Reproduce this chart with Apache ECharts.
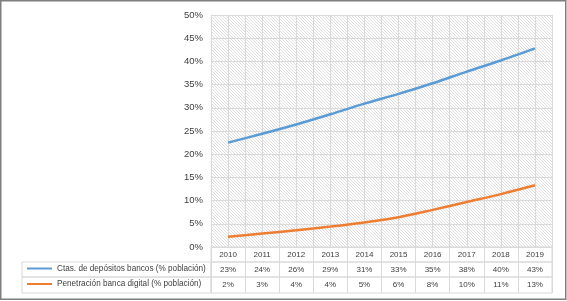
<!DOCTYPE html>
<html>
<head>
<meta charset="utf-8">
<script src="https://cdn.jsdelivr.net/npm/echarts@6/dist/echarts.min.js"></script>
<style>
html, body { margin: 0; padding: 0; background: #fff; }
#chart { width: 567px; height: 301px; }
</style>
</head>
<body>
<div id="chart"></div>
<script>
// Ctas. de depósito vs. banca digital (% población), 2010-2019
var years = ['2010', '2011', '2012', '2013', '2014', '2015', '2016', '2017', '2018', '2019'];
var seriesNames = ['Ctas. de depósitos bancos (% población)', 'Penetración banca digital (% población)'];
var ctasDepositos = [22.5, 24.4, 26.4, 28.6, 30.9, 33.0, 35.3, 37.8, 40.2, 42.8];
var bancaDigital = [2.2, 2.9, 3.6, 4.4, 5.3, 6.4, 8.0, 9.7, 11.4, 13.3];
var colors = ['#5b9bd5', '#ed7d31'];

var gridColor = '#d9d9d9';
var textColor = '#404040';

function pct(arr) {
    return arr.map(function (v) { return Math.round(v) + '%'; });
}

// diagonal hatch for the plot area
var hatch = document.createElement('canvas');
hatch.width = 3;
hatch.height = 3;
var ctx = hatch.getContext('2d');
ctx.fillStyle = '#ffffff';
ctx.fillRect(0, 0, 3, 3);
ctx.fillStyle = '#dedede';
for (var i = 0; i < 3; i++) {
    ctx.fillRect(i, i, 1, 1);
}

var dom = document.getElementById('chart');
var myChart = echarts.init(dom);
var option;

// data table rows under the plot: [grid index, labels]
var tableRows = [
    [1, years],
    [2, pct(ctasDepositos)],
    [3, pct(bancaDigital)]
];

function cellGrid(left, top, width, height) {
    return {
        left: left, top: top, width: width, height: height,
        show: true,
        borderColor: gridColor,
        borderWidth: 1,
        backgroundColor: 'transparent',
        outerBoundsMode: 'none'
    };
}

var xAxes = [
    {
        type: 'category',
        gridIndex: 0,
        data: years,
        boundaryGap: true,
        axisLine: { lineStyle: { color: gridColor } },
        axisTick: { show: false },
        axisLabel: { show: false },
        splitLine: { show: false }
    },
    {
        // half-category vertical gridlines
        type: 'value',
        gridIndex: 0,
        min: 0,
        max: 20,
        interval: 1,
        axisLine: { show: false },
        axisTick: { show: false },
        axisLabel: { show: false },
        splitLine: { show: true, lineStyle: { color: gridColor } }
    }
];
var yAxes = [
    {
        type: 'value',
        gridIndex: 0,
        min: 0,
        max: 50,
        interval: 5,
        axisLine: { show: false },
        axisTick: { show: false },
        axisLabel: { formatter: '{value}%', color: textColor, fontSize: 9.5, margin: 8 },
        splitLine: { lineStyle: { color: gridColor } }
    }
];

tableRows.forEach(function (row) {
    var h = row[0] === 3 ? 16 : 15;
    xAxes.push({
        type: 'category',
        gridIndex: row[0],
        position: 'top',
        data: row[1],
        boundaryGap: true,
        axisLine: { show: false },
        axisTick: { show: false },
        axisLabel: {
            inside: true, interval: 0, margin: h / 2, verticalAlign: 'middle',
            fontSize: 8, color: textColor
        },
        splitLine: { show: true, interval: 0, lineStyle: { color: gridColor } }
    });
});
for (var g = 1; g <= 5; g++) {
    yAxes.push({ type: 'value', gridIndex: g, show: false });
}
xAxes.push({ type: 'value', gridIndex: 4, show: false });
xAxes.push({ type: 'value', gridIndex: 5, show: false });

option = {
    animation: false,
    textStyle: { fontFamily: 'Liberation Sans' },
    color: colors,
    grid: [
        {
            left: 211, top: 15, width: 341, height: 232,
            show: true,
            borderWidth: 0,
            backgroundColor: { image: hatch, repeat: 'repeat' },
            outerBoundsMode: 'none'
        },
        cellGrid(211, 247, 341, 15),
        cellGrid(211, 262, 341, 15),
        cellGrid(211, 277, 341, 16),
        cellGrid(22, 262, 189, 15),
        cellGrid(22, 277, 189, 16)
    ],
    legend: [
        {
            data: [seriesNames[0]],
            left: 27, top: 264.5,
            padding: 0,
            icon: 'rect', itemWidth: 25, itemHeight: 2, itemGap: 3,
            textStyle: { fontSize: 8.2, color: textColor }
        },
        {
            data: [seriesNames[1]],
            left: 27, top: 280,
            padding: 0,
            icon: 'rect', itemWidth: 25, itemHeight: 2, itemGap: 3,
            textStyle: { fontSize: 8.2, color: textColor }
        }
    ],
    xAxis: xAxes,
    yAxis: yAxes,
    series: [
        {
            name: seriesNames[0],
            type: 'line',
            xAxisIndex: 0,
            yAxisIndex: 0,
            data: ctasDepositos,
            smooth: 0.3,
            showSymbol: false,
            lineStyle: { width: 2.5, color: colors[0] }
        },
        {
            name: seriesNames[1],
            type: 'line',
            xAxisIndex: 0,
            yAxisIndex: 0,
            data: bancaDigital,
            smooth: 0.3,
            showSymbol: false,
            lineStyle: { width: 2.5, color: colors[1] }
        }
    ],
    graphic: [
        {
            type: 'rect',
            shape: { x: 0.75, y: 0.75, width: 565, height: 298.5 },
            style: { fill: 'none', stroke: '#7f7f7f', lineWidth: 1.5 },
            silent: true,
            z: 100
        }
    ]
};

if (option && typeof option === 'object') {
    myChart.setOption(option);
}
</script>
</body>
</html>
